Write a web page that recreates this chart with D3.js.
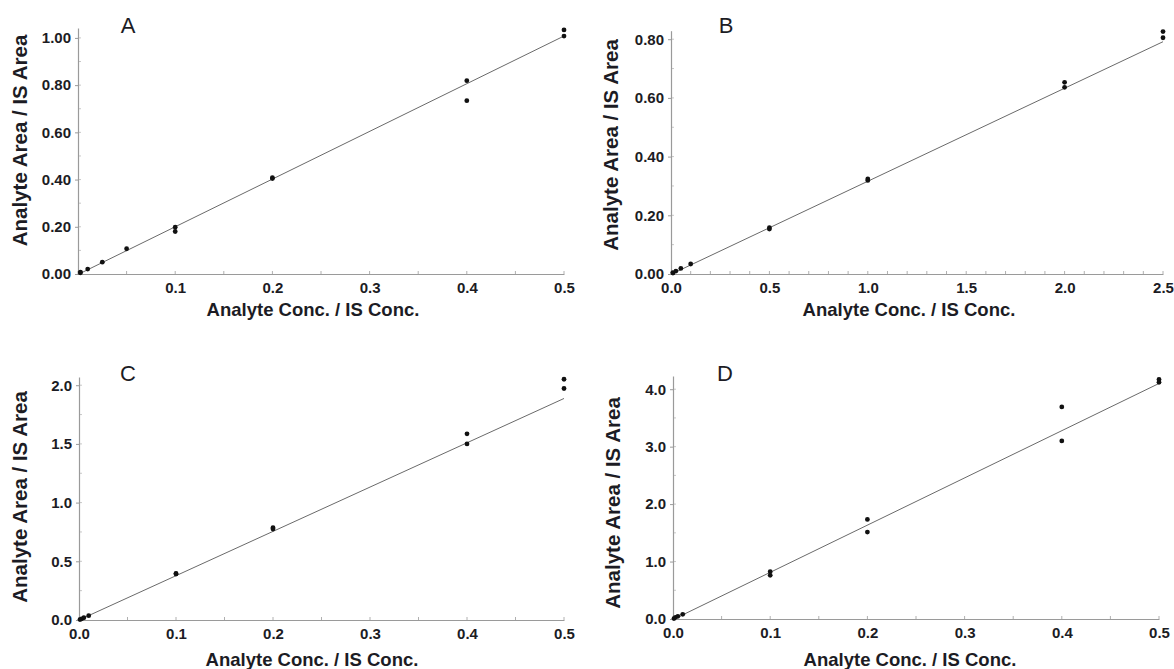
<!DOCTYPE html>
<html><head><meta charset="utf-8">
<script src="https://cdn.jsdelivr.net/npm/d3@7"></script>
<style>body{margin:0;background:#fff}svg{display:block}</style>
</head><body>
<svg id="chart" width="1174" height="669"></svg>
<script>
// ---- data ----
const panelLabels = ["A", "B", "C", "D"];

const concA  = [0.0025, 0.0025, 0.01, 0.025, 0.05, 0.1, 0.1, 0.2, 0.2, 0.4, 0.4, 0.5, 0.5];
const ratioA = [0.005, 0.008, 0.021, 0.050, 0.107, 0.198, 0.180, 0.408, 0.404, 0.819, 0.734, 1.034, 1.008];

const concB  = [0.01, 0.01, 0.025, 0.05, 0.1, 0.5, 0.5, 1.0, 1.0, 2.0, 2.0, 2.5, 2.5];
const ratioB = [0.003, 0.005, 0.010, 0.019, 0.034, 0.158, 0.153, 0.324, 0.319, 0.653, 0.636, 0.826, 0.805];

const concC  = [0.001, 0.0025, 0.005, 0.01, 0.1, 0.1, 0.2, 0.2, 0.4, 0.4, 0.5, 0.5];
const ratioC = [0.004, 0.009, 0.019, 0.037, 0.397, 0.392, 0.786, 0.775, 1.586, 1.500, 2.051, 1.972];

const concD  = [0.001, 0.0025, 0.005, 0.01, 0.1, 0.1, 0.2, 0.2, 0.4, 0.4, 0.5, 0.5];
const ratioD = [0.008, 0.030, 0.047, 0.082, 0.823, 0.760, 1.734, 1.513, 3.692, 3.100, 4.170, 4.120];

// regression lines
const fitSlope     = [2.020, 0.317, 3.774, 8.220];
const fitIntercept = [-0.002, -0.001, 0.000, -0.010];

// axis extents
const xMax = [0.5, 2.5, 0.5, 0.5];
const yTop = [1.042, 0.829, 2.07, 4.23];

// tick values
const xTicksA = [0.1, 0.2, 0.3, 0.4, 0.5];
const xTicksB = [0.0, 0.5, 1.0, 1.5, 2.0, 2.5];
const xTicksC = [0.0, 0.1, 0.2, 0.3, 0.4, 0.5];
const xTicksD = [0.0, 0.1, 0.2, 0.3, 0.4, 0.5];
const yTicksA = [0.0, 0.2, 0.4, 0.6, 0.8, 1.0];
const yTicksB = [0.0, 0.2, 0.4, 0.6, 0.8];
const yTicksC = [0.0, 0.5, 1.0, 1.5, 2.0];
const yTicksD = [0.0, 1.0, 2.0, 3.0, 4.0];
const xMinorStep = [0.05, 0.1, 0.05, 0.05];
const yMinorStep = [0.1, 0.1, 0.25, 0.5];
const yFormat = [".2f", ".2f", ".1f", ".1f"];

const xTitle = "Analyte Conc. / IS Conc.";
const yTitle = "Analyte Area / IS Area";

// ---- layout ----
const layout = [
  {x0: 78,  x1: 564,  y0: 274, y1: 28,  yt: [27, 140.5],  xt: [313, 316], lab: [128, 33]},
  {x0: 671, x1: 1163, y0: 274, y1: 30.7, yt: [618, 145],  xt: [909, 316], lab: [726, 33]},
  {x0: 79,  x1: 564,  y0: 620, y1: 377, yt: [27, 497],    xt: [312, 666], lab: [128, 381]},
  {x0: 673, x1: 1159, y0: 619, y1: 376, yt: [620, 503],   xt: [910, 666], lab: [725, 381]}
];

const concs = [concA, concB, concC, concD];
const ratios = [ratioA, ratioB, ratioC, ratioD];
const xTicks = [xTicksA, xTicksB, xTicksC, xTicksD];
const yTicks = [yTicksA, yTicksB, yTicksC, yTicksD];

const svg = d3.select("#chart");
const textCol = "#1c1c24";
const axisCol = "#9a9a9a";

panelLabels.forEach((lbl, i) => {
  const L = layout[i];
  const x = d3.scaleLinear().domain([0, xMax[i]]).range([L.x0, L.x1]);
  const y = d3.scaleLinear().domain([0, yTop[i]]).range([L.y0, L.y1]);
  const g = svg.append("g");

  // minor ticks y (inside)
  const yMin = d3.range(0, yTop[i] + 1e-9, yMinorStep[i]);
  g.append("g").selectAll("line").data(yMin).join("line")
    .attr("x1", L.x0).attr("x2", L.x0 + 3)
    .attr("y1", d => y(d)).attr("y2", d => y(d))
    .attr("stroke", "#c8c8c8").attr("stroke-width", 1);
  // minor ticks x (inside, upward)
  const xMin = d3.range(0, xMax[i] + 1e-9, xMinorStep[i]);
  g.append("g").selectAll("line").data(xMin).join("line")
    .attr("x1", d => x(d)).attr("x2", d => x(d))
    .attr("y1", L.y0).attr("y2", L.y0 - 3)
    .attr("stroke", "#b0b0b0").attr("stroke-width", 1);

  // y axis
  const ya = g.append("g").attr("transform", `translate(${L.x0},0)`)
    .call(d3.axisLeft(y).tickValues(yTicks[i]).tickFormat(d3.format(yFormat[i]))
      .tickSize(3).tickSizeOuter(0).tickPadding(4));
  // x axis
  const xa = g.append("g").attr("transform", `translate(0,${L.y0})`)
    .call(d3.axisBottom(x).tickValues(xTicks[i]).tickFormat(d3.format(".1f"))
      .tickSize(0).tickSizeOuter(0).tickPadding(8));
  [ya, xa].forEach(a => {
    a.select(".domain").attr("stroke", axisCol).attr("stroke-width", 1.2);
    a.selectAll(".tick line").attr("stroke", axisCol);
    a.selectAll(".tick text").attr("fill", textCol)
      .style("font-family", "'Liberation Sans', Arial, sans-serif")
      .style("font-weight", "bold").style("font-size", "15px");
  });

  // fit line
  g.append("line")
    .attr("x1", x(0)).attr("y1", y(fitIntercept[i]))
    .attr("x2", x(xMax[i])).attr("y2", y(fitIntercept[i] + fitSlope[i] * xMax[i]))
    .attr("stroke", "#6a6a6a").attr("stroke-width", 1);

  // points
  g.append("g").selectAll("circle").data(concs[i].map((c, k) => [c, ratios[i][k]])).join("circle")
    .attr("cx", d => x(d[0])).attr("cy", d => y(d[1])).attr("r", 2.4)
    .attr("fill", "#111");

  // titles
  g.append("text").attr("x", L.xt[0]).attr("y", L.xt[1]).attr("text-anchor", "middle")
    .attr("fill", textCol).style("font-family", "'Liberation Sans', Arial, sans-serif")
    .style("font-weight", "bold").style("font-size", "18.5px").text(xTitle);
  g.append("text").attr("transform", `translate(${L.yt[0]},${L.yt[1]}) rotate(-90)`)
    .attr("text-anchor", "middle").attr("fill", textCol)
    .style("font-family", "'Liberation Sans', Arial, sans-serif")
    .style("font-weight", "bold").style("font-size", "20.5px").text(yTitle);
  g.append("text").attr("x", L.lab[0]).attr("y", L.lab[1]).attr("text-anchor", "middle")
    .attr("fill", textCol).style("font-family", "'Liberation Sans', Arial, sans-serif")
    .style("font-size", "22px").text(lbl);
});
</script>
</body></html>
